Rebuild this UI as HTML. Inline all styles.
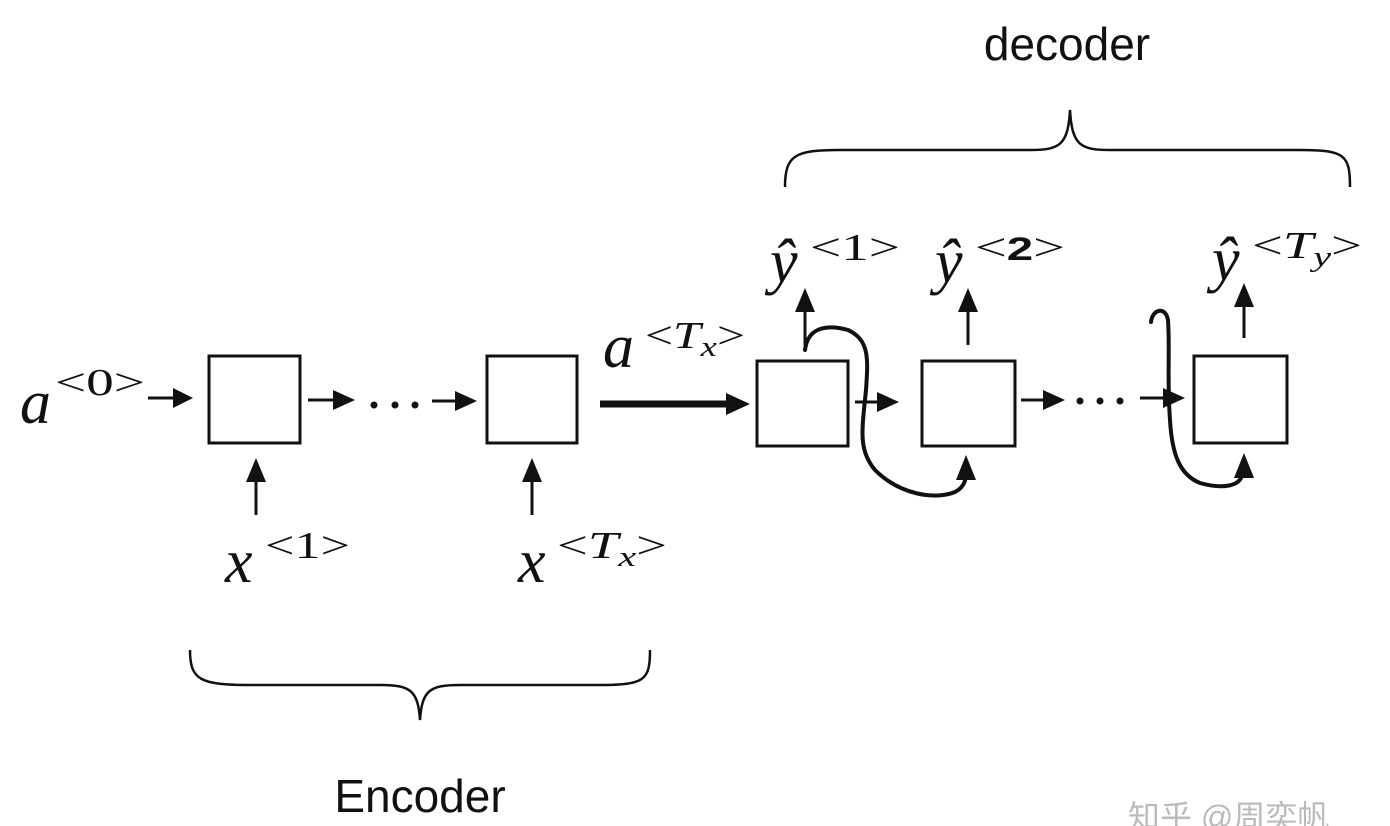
<!DOCTYPE html>
<html><head><meta charset="utf-8"><style>
html,body{margin:0;padding:0;background:#fff;width:1390px;height:826px;overflow:hidden}
svg text{font-family:"Liberation Serif","DejaVu Serif",serif;fill:#111}
.s{font-family:"Liberation Sans","Noto Sans CJK SC",sans-serif;}
</style></head><body>
<svg width="1390" height="826" viewBox="0 0 1390 826" xmlns="http://www.w3.org/2000/svg">
<g fill="none" stroke="#111" stroke-width="3">
<rect x="209" y="356" width="91" height="87"/>
<rect x="487" y="356" width="90" height="87"/>
<rect x="757" y="361" width="91" height="85"/>
<rect x="922" y="361" width="93" height="85"/>
<rect x="1194" y="356" width="93" height="87"/>
</g>
<g stroke="#111" stroke-width="3">
<line x1="148" y1="398" x2="175" y2="398"/>
<line x1="308" y1="400" x2="335" y2="400"/>
<line x1="432" y1="401" x2="457" y2="401"/>
<line x1="256" y1="515" x2="256" y2="480"/>
<line x1="532" y1="515" x2="532" y2="480"/>
<line x1="600" y1="404" x2="730" y2="404" stroke-width="7"/>
<line x1="855" y1="402" x2="880" y2="402"/>
<line x1="1021" y1="400" x2="1045" y2="400"/>
<line x1="1140" y1="398" x2="1165" y2="398"/>
<line x1="805" y1="345" x2="805" y2="310"/>
<line x1="968" y1="345" x2="968" y2="310"/>
<line x1="1244" y1="338" x2="1244" y2="305"/>
</g>
<g fill="#111">
<polygon points="173,388 193,398 173,408"/>
<polygon points="333,390 355,400 333,410"/>
<polygon points="455,391 477,401 455,411"/>
<polygon points="246,482 256,458 266,482"/>
<polygon points="522,482 532,458 542,482"/>
<polygon points="726,393 750,404 726,415"/>
<polygon points="877,392 899,402 877,412"/>
<polygon points="1043,390 1065,400 1043,410"/>
<polygon points="1163,388 1185,398 1163,408"/>
<polygon points="795,312 805,288 815,312"/>
<polygon points="958,312 968,288 978,312"/>
<polygon points="1234,307 1244,283 1254,307"/>
<polygon points="956,480 966,455 976,480"/>
<polygon points="1234,478 1244,453 1254,478"/>
<circle cx="374" cy="405" r="3.5"/><circle cx="395" cy="405" r="3.5"/><circle cx="415" cy="405" r="3.5"/>
<circle cx="1080" cy="401" r="3.5"/><circle cx="1100" cy="401" r="3.5"/><circle cx="1120" cy="401" r="3.5"/>
</g>
<g fill="none" stroke="#111" stroke-width="4" stroke-linecap="round">
<path d="M805,350 C808,325 830,325 848,330 C870,340 868,360 866,390 C862,430 858,450 875,470 C900,495 935,500 955,492 C967,486 966,475 966,470"/>
<path d="M1151,322 C1152,310 1165,305 1168,320 C1170,350 1167,380 1170,420 C1172,455 1180,475 1200,483 C1225,490 1240,485 1242,475"/>
</g>
<g fill="none" stroke="#111" stroke-width="2.5">
<path d="M190,650 C190,680 200,685 250,685 L380,685 C410,685 418,690 420,720 C422,690 430,685 460,685 L600,685 C645,685 650,680 650,650"/>
<path d="M785,187 C785,155 795,150 840,150 L1030,150 C1060,150 1068,145 1070,110 C1072,145 1080,150 1110,150 L1300,150 C1345,150 1350,155 1350,187"/>
</g>
<text x="20" y="423" font-size="62" font-style="italic">a</text>
<text x="55" y="395" font-size="38" textLength="90" lengthAdjust="spacingAndGlyphs">&lt;0&gt;</text>
<text x="603" y="367" font-size="62" font-style="italic">a</text>
<text x="645" y="348" font-size="38" textLength="100" lengthAdjust="spacingAndGlyphs">&lt;<tspan font-style="italic">T<tspan font-size="28" dy="8">x</tspan></tspan><tspan dy="-8">&gt;</tspan></text>
<text x="225" y="582" font-size="62" font-style="italic">x</text>
<text x="265" y="558" font-size="38" textLength="85" lengthAdjust="spacingAndGlyphs">&lt;1&gt;</text>
<text x="518" y="582" font-size="62" font-style="italic">x</text>
<text x="557" y="558" font-size="38" textLength="110" lengthAdjust="spacingAndGlyphs">&lt;<tspan font-style="italic">T<tspan font-size="28" dy="8">x</tspan></tspan><tspan dy="-8">&gt;</tspan></text>
<text x="770" y="282" font-size="62" font-style="italic">ŷ</text>
<text x="810" y="260" font-size="38" textLength="90" lengthAdjust="spacingAndGlyphs">&lt;1&gt;</text>
<text x="935" y="282" font-size="62" font-style="italic">ŷ</text>
<text x="975" y="260" font-size="38" textLength="90" lengthAdjust="spacingAndGlyphs">&lt;<tspan class="s" font-weight="bold" font-size="32">2</tspan>&gt;</text>
<text x="1212" y="280" font-size="62" font-style="italic">ŷ</text>
<text x="1252" y="258" font-size="38" textLength="110" lengthAdjust="spacingAndGlyphs">&lt;<tspan font-style="italic">T<tspan font-size="28" dy="8">y</tspan></tspan><tspan dy="-8">&gt;</tspan></text>
<text class="s" x="1067" y="60" font-size="46" text-anchor="middle">decoder</text>
<text class="s" x="420" y="812" font-size="46" text-anchor="middle">Encoder</text>
<text class="s" x="1128" y="828" font-size="32" style="fill:#bbb">知乎 @周奕帆</text>
</svg>
</body></html>
